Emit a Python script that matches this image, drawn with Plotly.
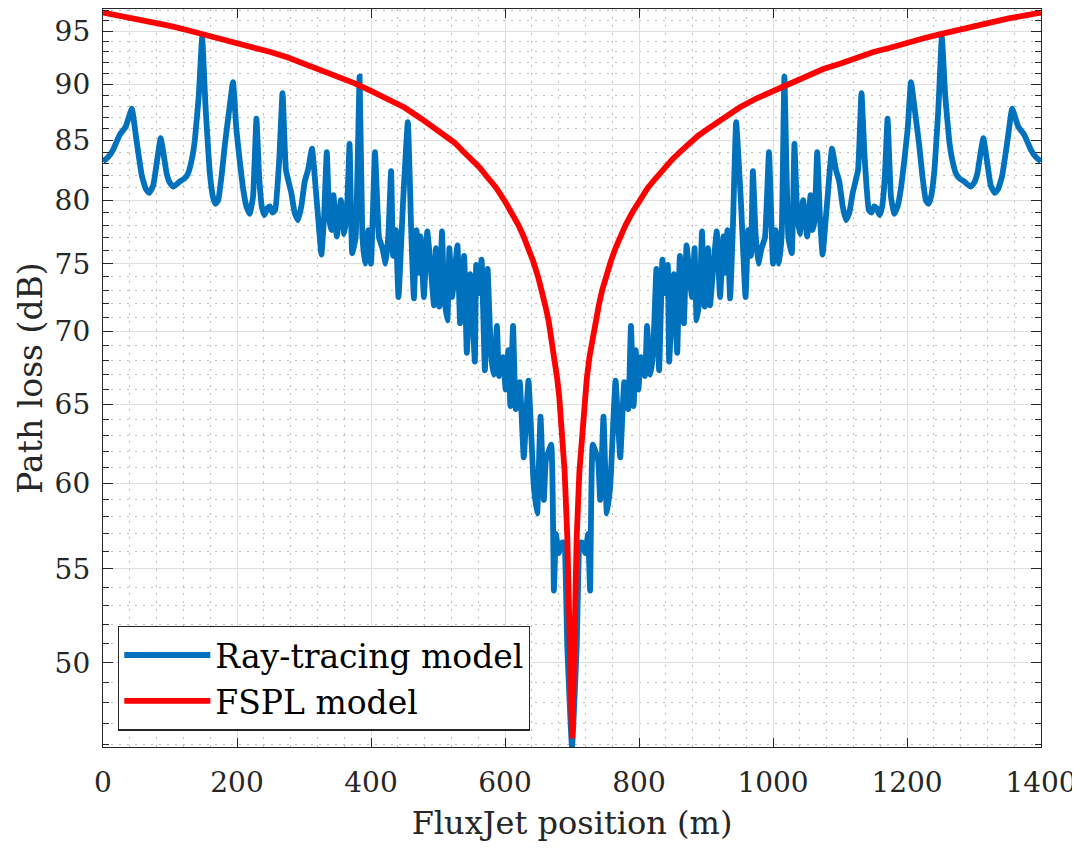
import plotly.graph_objects as go

# ---------------- data ----------------
ray_pos_left = [0, 8, 15, 25, 34, 43, 50, 58, 64, 69, 75, 80, 86, 90, 95, 100, 105, 114, 122, 127,
                133, 137, 143, 148, 153, 159, 164, 168, 172, 177, 182, 188, 194, 199, 204, 209, 214, 219, 224, 229,
                233, 237, 241, 246, 249, 253, 257, 263, 268, 273, 281, 286, 291, 296, 301, 306, 312, 318, 322, 326,
                330, 334, 338, 341, 344, 349, 355, 360, 364, 368, 372, 377, 383, 387, 391, 396, 400, 406, 412, 417,
                422, 426, 430, 433, 437, 441, 448, 455, 460, 464, 468, 472, 474, 479, 484, 489, 494, 497, 502, 506,
                509, 514, 517, 521, 529, 533, 539, 543, 548, 555, 557, 561, 565, 570, 574, 579, 583, 588, 591, 597,
                601, 605, 608, 612, 616, 622, 628, 635, 643, 648, 653, 658, 661, 669, 673, 676, 680, 685, 688, 693,
                700]
ray_loss_left = [83.2, 83.6, 84.2, 85.5, 86.2, 87.8, 85.0, 82.0, 80.9, 80.6, 81.2, 83.0, 85.2, 84.0, 82.2, 81.4, 81.1, 81.5, 81.8, 82.2,
                 83.5, 85.0, 89.0, 94.4, 88.0, 82.5, 80.3, 79.7, 80.0, 82.0, 84.7, 87.5, 90.2, 86.0, 83.3, 81.0, 79.5, 78.9, 80.3, 86.9,
                 82.0, 79.5, 78.8, 79.4, 79.5, 79.0, 79.2, 83.3, 89.2, 82.5, 80.6, 79.0, 78.4, 79.5, 81.5, 82.5, 84.3, 80.6, 78.0, 75.7,
                 78.7, 84.0, 78.4, 77.6, 80.4, 77.1, 80.0, 77.3, 79.0, 84.7, 75.8, 77.0, 90.7, 77.3, 75.0, 77.6, 75.0, 84.0, 77.0, 76.2,
                 75.0, 77.3, 82.4, 75.6, 77.6, 72.5, 80.0, 86.6, 77.6, 72.4, 77.6, 74.3, 77.1, 72.5, 77.5, 74.8, 71.9, 76.2, 71.8, 77.5,
                 72.8, 70.8, 76.2, 72.5, 76.4, 70.6, 75.6, 68.5, 74.2, 67.9, 74.9, 72.8, 75.3, 67.3, 74.6, 68.5, 67.0, 70.4, 66.9, 68.2,
                 66.0, 68.7, 64.9, 70.4, 64.7, 66.5, 61.6, 66.6, 59.8, 58.2, 64.2, 59.0, 61.4, 62.4, 53.8, 57.0, 55.9, 56.5, 56.5, 50.8,
                 45.9]

ray_pos_right = [707, 712, 715, 720, 724, 727, 731, 739, 742, 747, 752, 757, 765, 772, 778, 784, 788, 792, 795, 799,
                 803, 809, 812, 817, 821, 826, 830, 835, 839, 843, 845, 852, 857, 861, 867, 871, 879, 883, 886, 891,
                 894, 898, 903, 906, 911, 916, 921, 926, 928, 932, 936, 940, 945, 952, 959, 963, 967, 970, 974, 978,
                 983, 988, 994, 1000, 1004, 1009, 1013, 1017, 1023, 1028, 1032, 1036, 1040, 1045, 1051, 1056, 1059, 1062, 1066, 1070,
                 1074, 1078, 1082, 1088, 1094, 1099, 1104, 1109, 1114, 1119, 1127, 1132, 1137, 1143, 1147, 1151, 1154, 1159, 1163, 1167,
                 1171, 1176, 1181, 1186, 1191, 1196, 1201, 1206, 1212, 1218, 1223, 1228, 1232, 1236, 1241, 1247, 1252, 1257, 1263, 1267,
                 1273, 1278, 1286, 1295, 1300, 1305, 1310, 1314, 1320, 1325, 1331, 1336, 1342, 1350, 1357, 1366, 1375, 1385, 1392, 1400]
ray_loss_right = [50.8, 56.5, 56.5, 55.9, 57.0, 53.8, 62.4, 61.4, 59.0, 64.2, 58.2, 59.8, 66.6, 61.6, 66.5, 64.7, 70.4, 64.9, 68.7, 66.0,
                  68.2, 66.9, 70.4, 67.0, 68.5, 74.6, 67.3, 75.3, 72.8, 74.9, 67.9, 74.2, 68.5, 75.6, 70.6, 76.4, 72.5, 76.2, 70.8, 72.8,
                  77.5, 71.8, 76.2, 71.9, 74.8, 77.5, 72.5, 77.1, 74.3, 77.6, 72.4, 77.6, 86.6, 80.0, 72.5, 77.6, 75.6, 82.4, 77.3, 75.0,
                  76.2, 77.0, 84.0, 75.0, 77.6, 75.0, 77.3, 90.7, 77.0, 75.8, 84.7, 79.0, 77.3, 80.0, 77.1, 80.4, 77.6, 78.4, 84.0, 78.7,
                  75.7, 78.0, 80.6, 84.3, 82.5, 81.5, 79.5, 78.4, 79.0, 80.6, 82.5, 89.2, 83.3, 79.2, 79.0, 79.5, 79.4, 78.8, 79.5, 82.0,
                  86.9, 80.3, 78.9, 79.5, 81.0, 83.3, 86.0, 90.2, 87.5, 84.7, 82.0, 80.0, 79.7, 80.3, 82.5, 88.0, 94.4, 89.0, 85.0, 83.5,
                  82.2, 81.8, 81.5, 81.1, 81.4, 82.2, 84.0, 85.2, 83.0, 81.2, 80.6, 80.9, 82.0, 85.0, 87.8, 86.2, 85.5, 84.2, 83.6, 83.2]

fspl_pos = [0, 25, 50, 75, 100, 125, 150, 175, 200, 225, 250, 275, 300, 325, 350, 375, 400, 425, 450, 475,
            500, 512, 525, 537, 550, 562, 575, 587, 600, 610, 620, 627, 635, 642, 650, 655, 660, 665, 670, 674,
            678, 681, 684, 689, 693, 696, 698, 700,
            702, 704, 707, 711, 716, 719, 722, 726, 730, 735, 740, 745, 750, 758, 765, 773, 780, 790, 800, 813,
            825, 838, 850, 863, 875, 888, 900, 925, 950, 975, 1000, 1025, 1050, 1075, 1100, 1125, 1150, 1175,
            1200, 1225, 1250, 1275, 1300, 1325, 1350, 1375, 1400]
fspl_loss = [96.8, 96.5, 96.2, 95.8, 95.5, 95.1, 94.7, 94.3, 93.9, 93.4, 93.0, 92.5, 91.9, 91.4, 90.8, 90.1, 89.4, 88.7, 87.9, 86.9,
             85.9, 85.4, 84.8, 84.1, 83.4, 82.7, 81.8, 81.0, 79.9, 79.0, 78.0, 77.2, 76.2, 75.2, 73.9, 73.0, 71.9, 70.8, 69.4, 68.2,
             66.7, 65.5, 64.0, 60.7, 56.8, 52.0, 48.5, 46.3,
             48.5, 52.0, 56.8, 60.7, 64.0, 65.5, 66.7, 68.2, 69.4, 70.8, 71.9, 73.0, 73.9, 75.2, 76.2, 77.2, 78.0, 79.0, 79.9, 81.0,
             81.8, 82.7, 83.4, 84.1, 84.8, 85.4, 85.9, 86.9, 87.9, 88.7, 89.4, 90.1, 90.8, 91.4, 91.9, 92.5, 93.0, 93.4,
             93.9, 94.3, 94.7, 95.1, 95.5, 95.8, 96.2, 96.5, 96.8]

x_ticks = [0, 200, 400, 600, 800, 1000, 1200, 1400]
y_ticks = [50, 55, 60, 65, 70, 75, 80, 85, 90, 95]
y_tick_labels = ["50", "55", "60", "65", "70", "75", "80", "85", "90", "95"]
x_minor = [v for v in range(40, 1400, 40) if v % 200 != 0]
y_minor = [v for v in range(46, 98) if v % 5 != 0]

FONT = "DejaVu Serif"
AX = "#262626"

ray_x = ray_pos_left + ray_pos_right
ray_y = ray_loss_left + ray_loss_right

fig = go.Figure()
fig.add_trace(go.Scatter(x=ray_x, y=ray_y, mode="lines", name="Ray-tracing model",
                         line=dict(color="#0072BD", width=5.8, shape="spline", smoothing=0.35)))
fig.add_trace(go.Scatter(x=fspl_pos, y=fspl_loss, mode="lines", name="FSPL model",
                         line=dict(color="#FF0000", width=5.8)))

# page body has an 8 px margin: figure offset accordingly inside the 1080x850 window
fig.update_layout(
    width=1072, height=842,
    margin=dict(l=95, r=39, t=1, b=103),
    paper_bgcolor="white", plot_bgcolor="white",
    font=dict(family=FONT, size=28, color=AX),
    legend=dict(x=0.016, y=0.022, xanchor="left", yanchor="bottom",
                bgcolor="white", bordercolor=AX, borderwidth=1.3,
                font=dict(family=FONT, size=33, color="black"),
                itemwidth=86, tracegroupgap=0),
)

fig.update_xaxes(
    range=[0, 1400], tickvals=x_ticks, ticktext=[str(v) for v in x_ticks],
    ticks="inside", ticklen=9, tickwidth=1.3, tickcolor=AX,
    showline=True, linecolor=AX, linewidth=1.3, mirror="ticks",
    showgrid=True, gridcolor="#dedede", gridwidth=1, zeroline=False,
    automargin=False, ticklabelstandoff=10,
    tickfont=dict(family=FONT, size=28, color=AX),
    minor=dict(tickvals=x_minor, ticks="", showgrid=True, gridcolor="#bdbdbd",
               griddash="2px,6px", gridwidth=1),
    title=dict(text="FluxJet position (m)", font=dict(size=32, family=FONT, color=AX), standoff=13),
)
fig.update_yaxes(
    type="log", range=[1.66181, 1.98744],
    tickvals=y_ticks, ticktext=y_tick_labels,
    ticks="inside", ticklen=10, tickwidth=1.3, tickcolor=AX,
    showline=True, linecolor=AX, linewidth=1.3, mirror="ticks",
    showgrid=True, gridcolor="#dedede", gridwidth=1, zeroline=False,
    automargin=False, ticklabelstandoff=6,
    tickfont=dict(family=FONT, size=28, color=AX),
    minor=dict(tickvals=y_minor, ticks="inside", ticklen=6, tickwidth=1.3, tickcolor=AX,
               showgrid=True, gridcolor="#bdbdbd", griddash="2px,6px", gridwidth=1),
    title=dict(text="Path loss (dB)", font=dict(size=33, family=FONT, color=AX), standoff=2),
)

fig.write_html("out.html")
